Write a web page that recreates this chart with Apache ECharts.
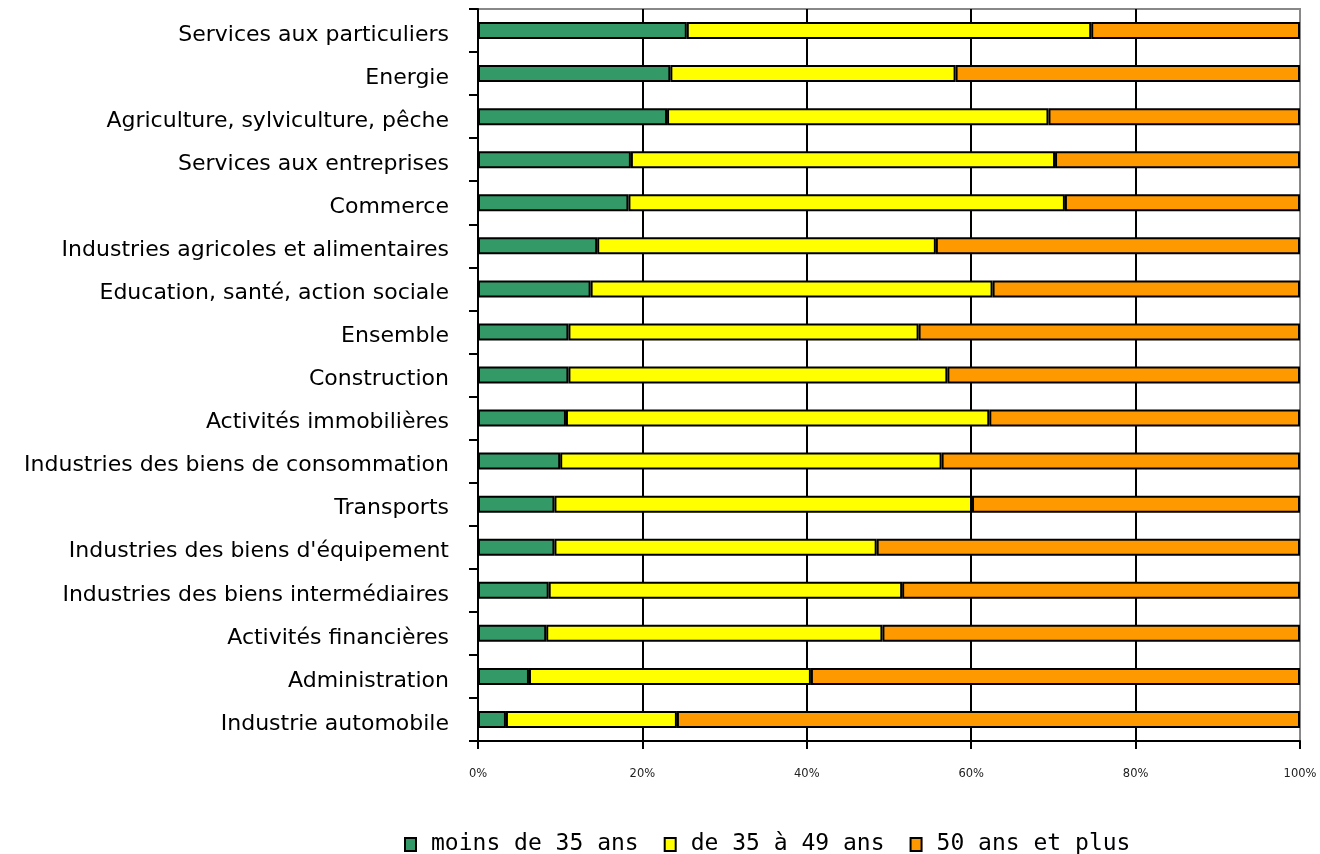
<!DOCTYPE html>
<html>
<head>
<meta charset="utf-8">
<script src="https://cdn.jsdelivr.net/npm/echarts@6/dist/echarts.min.js"></script>
<style>
  html, body { margin: 0; padding: 0; background: #fff; }
  #chart { width: 1320px; height: 854px; }
</style>
</head>
<body>
<div id="chart"></div>
<script>
// Sectors, listed from top to bottom
const categories = [
  'Services aux particuliers',
  'Energie',
  'Agriculture, sylviculture, pêche',
  'Services aux entreprises',
  'Commerce',
  'Industries agricoles et alimentaires',
  'Education, santé, action sociale',
  'Ensemble',
  'Construction',
  'Activités immobilières',
  'Industries des biens de consommation',
  'Transports',
  "Industries des biens d'équipement",
  'Industries des biens intermédiaires',
  'Activités financières',
  'Administration',
  'Industrie automobile'
];

const seriesNames = ['moins de 35 ans', 'de 35 à 49 ans', '50 ans et plus'];

// Share of each age group (%)
const under35 = [25.4, 23.4, 23.0, 18.6, 18.3, 14.5, 13.7, 11.0, 11.0, 10.7, 10.0, 9.3, 9.3, 8.6, 8.3, 6.2, 3.4];
const from35to49 = [49.2, 34.7, 46.4, 51.6, 53.1, 41.2, 48.9, 42.6, 46.1, 51.5, 46.4, 50.8, 39.2, 43.0, 40.9, 34.3, 20.8];
const over50 = [25.4, 41.9, 30.6, 29.8, 28.6, 44.3, 37.4, 46.4, 42.9, 37.8, 43.6, 39.9, 51.5, 48.4, 50.8, 59.5, 75.8];

const xTicks = [0, 20, 40, 60, 80, 100];

const colors = ['#339966', '#FFFF00', '#FF9900'];
const values = [under35, from35to49, over50];

const chart = echarts.init(document.getElementById('chart'), null, { renderer: 'canvas' });

chart.setOption({
  animation: false,
  backgroundColor: '#ffffff',
  grid: {
    left: 478, right: 20, top: 9, bottom: 113,
    show: true, borderColor: '#888888', borderWidth: 2, backgroundColor: 'transparent'
  },
  legend: {
    top: 828,
    left: 399,
    icon: 'rect',
    itemWidth: 11,
    itemHeight: 13,
    itemGap: 25,
    data: seriesNames,
    textStyle: { fontFamily: 'DejaVu Sans Mono', fontSize: 23, color: '#000', padding: [0, 0, 0, 10] }
  },
  xAxis: {
    type: 'value',
    min: xTicks[0],
    max: xTicks[xTicks.length - 1],
    interval: xTicks[1] - xTicks[0],
    axisLine: { show: true, lineStyle: { color: '#000', width: 2 } },
    axisTick: { show: true, length: 8, lineStyle: { color: '#000', width: 2 } },
    axisLabel: {
      formatter: '{value}%',
      margin: 27,
      fontFamily: 'DejaVu Sans',
      fontSize: 11.5,
      color: '#222'
    },
    splitLine: {
      show: true,
      lineStyle: { color: ['#000', '#000', '#000', '#000', '#000', '#888'], width: 2 }
    }
  },
  yAxis: {
    type: 'category',
    data: categories,
    inverse: true,
    axisLine: { show: true, lineStyle: { color: '#000', width: 2 } },
    axisTick: { show: true, length: 9, lineStyle: { color: '#000', width: 2 } },
    axisLabel: {
      margin: 29,
      fontFamily: 'DejaVu Sans',
      fontSize: 22,
      color: '#000',
      verticalAlign: 'top',
      lineHeight: 9
    },
    splitLine: { show: false }
  },
  series: seriesNames.map((name, i) => ({
    name: name,
    type: 'bar',
    stack: 'total',
    barWidth: 17,
    data: values[i],
    itemStyle: { color: colors[i], borderColor: '#000', borderWidth: 2 }
  }))
});
</script>
</body>
</html>
